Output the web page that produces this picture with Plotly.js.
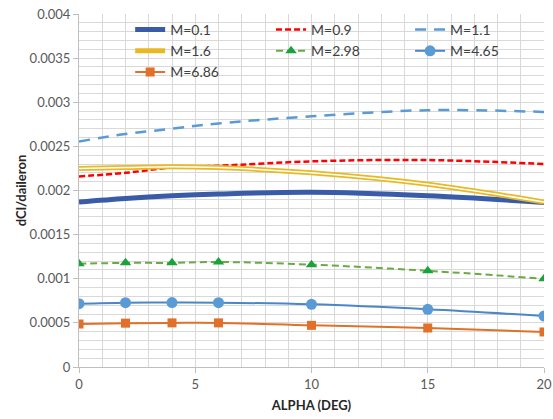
<!DOCTYPE html>
<html><head><meta charset="utf-8">
<script src="https://cdn.plot.ly/plotly-3.0.1.min.js"></script>
<style>html,body{margin:0;padding:0;background:#fff}#chart{width:553px;height:419px}</style>
</head><body><div id="chart"></div>
<script>
const alpha = [0, 2, 4, 6, 10, 15, 20];
const m01  = [0.00187, 0.00191, 0.00194, 0.00196, 0.00198, 0.00194, 0.001865];
const m09  = [0.00216, 0.00220, 0.00226, 0.00228, 0.00233, 0.002345, 0.00230];
const m11  = [0.002555, 0.00264, 0.00270, 0.00276, 0.00284, 0.00291, 0.00289];
const m16  = [0.00225, 0.00226, 0.00227, 0.00226, 0.00220, 0.00207, 0.00187];
const m298 = [0.00117, 0.00118, 0.00118, 0.00119, 0.00116, 0.00109, 0.00100];
const m465 = [0.000717, 0.000729, 0.00073, 0.000729, 0.00071, 0.000654, 0.000578];
const m686 = [0.000487, 0.000497, 0.0005, 0.0005, 0.000472, 0.000442, 0.000397];
const yTickVals = [0, 0.0005, 0.001, 0.0015, 0.002, 0.0025, 0.003, 0.0035, 0.004];
const yTickText = ['0', '0.0005', '0.001', '0.0015', '0.002', '0.0025', '0.003', '0.0035', '0.004'];
const xTickVals = [0, 5, 10, 15, 20];

const traces = [
  {x: alpha, y: m01, name: 'M=0.1', legend: 'legend', mode: 'lines', line: {color: '#3a5ca8', width: 5, shape: 'spline'}},
  {x: alpha, y: m09, name: 'M=0.9', legend: 'legend2', mode: 'lines', line: {color: '#ff0000', width: 2.5, dash: '6px,3px', shape: 'spline'}},
  {x: alpha, y: m11, name: 'M=1.1', legend: 'legend3', mode: 'lines', line: {color: '#5b9bd5', width: 2.5, dash: '11px,8px', shape: 'spline'}},
  {x: alpha, y: m16, name: 'M=1.6', legend: 'legend', mode: 'lines', line: {color: '#e8b923', width: 5, shape: 'spline'}},
  {x: alpha, y: m298, name: 'M=2.98', legend: 'legend2', mode: 'lines+markers', line: {color: '#6aaa45', width: 2, dash: '7px,4px', shape: 'spline'}, marker: {symbol: 'triangle-up', size: 10, color: '#1aa33a'}},
  {x: alpha, y: m465, name: 'M=4.65', legend: 'legend3', mode: 'lines+markers', line: {color: '#4a86c8', width: 2, shape: 'spline'}, marker: {symbol: 'circle', size: 11, color: '#5b9bd5'}},
  {x: alpha, y: m686, name: 'M=6.86', legend: 'legend', mode: 'lines+markers', line: {color: '#e0702a', width: 2, shape: 'spline'}, marker: {symbol: 'square', size: 9, color: '#e0702a'}},
  {x: alpha, y: m16, name: 'M=1.6', mode: 'lines', line: {color: '#ffffff', width: 1.5, shape: 'spline'}, showlegend: false, hoverinfo: 'skip'}
];

const gridColor = '#d9d9d9';
const legendBase = {y: 1, xanchor: 'left', yanchor: 'top', bgcolor: 'rgba(0,0,0,0)',
  font: {size: 14, color: '#404040'}, traceorder: 'normal'};
const layout = {
  width: 553, height: 419,
  margin: {l: 79, r: 9, t: 14, b: 52},
  paper_bgcolor: '#ffffff', plot_bgcolor: '#ffffff',
  font: {family: 'Lato, "Open Sans", sans-serif', color: '#595959', size: 13},
  showlegend: true,
  legend: Object.assign({x: 0.11}, legendBase),
  legend2: Object.assign({x: 0.413}, legendBase),
  legend3: Object.assign({x: 0.712}, legendBase),
  shapes: [{type: 'rect', xref: 'paper', yref: 'paper', x0: 0.045, x1: 0.948, y0: 0.805, y1: 1,
            fillcolor: '#ffffff', line: {width: 0}, layer: 'below'}],
  xaxis: {
    range: [0, 20], tickvals: xTickVals, showgrid: true, gridcolor: gridColor, gridwidth: 1,
    minor: {dtick: 1, showgrid: true, gridcolor: gridColor, gridwidth: 1},
    zeroline: false, showline: true, linecolor: '#bfbfbf', ticks: 'outside', ticklen: 5, tickcolor: '#bfbfbf',
    tickfont: {size: 13, color: '#595959'},
    title: {text: 'ALPHA (DEG)', font: {size: 13, color: '#262626', family: 'Lato, sans-serif', weight: 'bold'}, standoff: 10},
    mirror: false
  },
  yaxis: {
    range: [0, 0.004], tickvals: yTickVals, ticktext: yTickText, showgrid: true, gridcolor: gridColor, gridwidth: 1,
    minor: {dtick: 0.0001, showgrid: true, gridcolor: gridColor, gridwidth: 1},
    zeroline: false, showline: true, linecolor: '#bfbfbf', ticks: 'outside', ticklen: 5, tickcolor: '#bfbfbf',
    tickfont: {size: 13, color: '#595959'},
    title: {text: 'dCl/daileron', font: {size: 13, color: '#262626', family: 'Lato, sans-serif', weight: 'bold'}, standoff: 0}
  }
};
Plotly.newPlot('chart', traces, layout, {displayModeBar: false, staticPlot: true});
</script></body></html>
